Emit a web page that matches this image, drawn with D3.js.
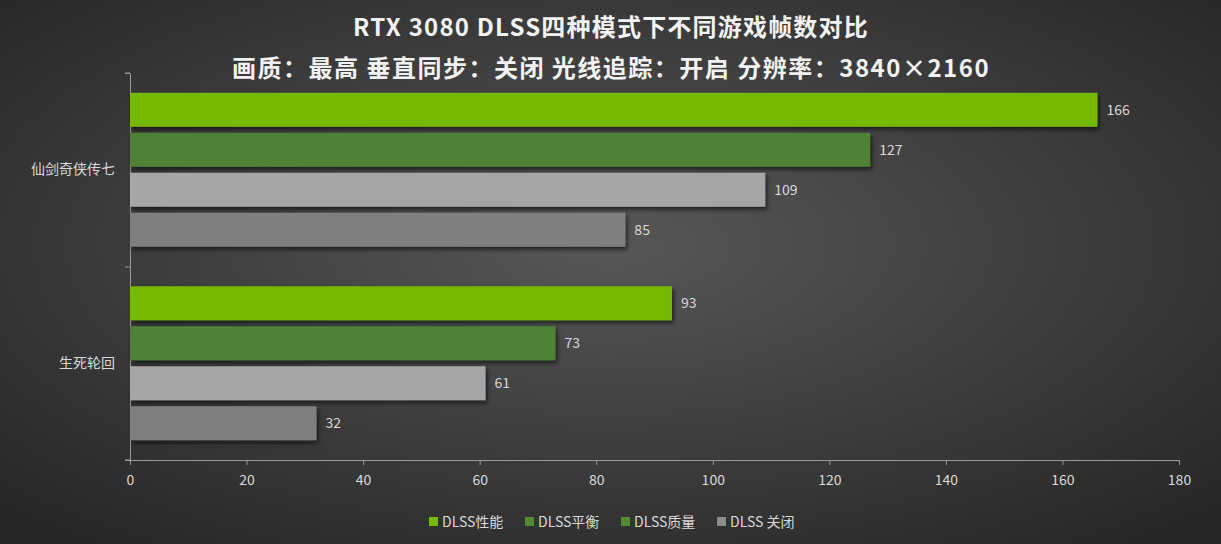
<!DOCTYPE html><html><head><meta charset="utf-8"><script src="https://cdn.jsdelivr.net/npm/d3@7"></script>
<style>body{margin:0;background:#333}</style></head><body><svg id="c" width="1221" height="544"></svg>
<script>
const categories=["仙剑奇侠传七","生死轮回"];
const seriesNames=["DLSS性能","DLSS平衡","DLSS质量","DLSS 关闭"];
const barColors=["#76b900","#4f8236","#a6a6a6","#7f7f7f"];
const legendColors=["#76b900","#538b35","#538b35","#8c8c8c"];
const values=[[166,127,109,85],[93,73,61,32]];
const xTicks=[0,20,40,60,80,100,120,140,160,180];
const title1="RTX 3080 DLSS四种模式下不同游戏帧数对比";
const title2="画质：最高 垂直同步：关闭 光线追踪：开启 分辨率：3840×2160";

const svg=d3.select("#c");
const defs=svg.append("defs");
const g=defs.append("radialGradient").attr("id","bg").attr("cx","50%").attr("cy","45%").attr("r","70%");
g.append("stop").attr("offset","0%").attr("stop-color","#575757");
g.append("stop").attr("offset","100%").attr("stop-color","#262626");
const f=defs.append("filter").attr("id","sh").attr("x","-5%").attr("y","-20%").attr("width","115%").attr("height","160%");
f.append("feDropShadow").attr("dx",2).attr("dy",3).attr("stdDeviation",2).attr("flood-color","#000").attr("flood-opacity",0.55);
svg.append("rect").attr("width",1221).attr("height",544).attr("fill","url(#bg)");
const font="'Noto Sans CJK SC','Noto Sans',sans-serif";
svg.append("text").attr("x",611).attr("y",36).attr("text-anchor","middle").attr("fill","#f2f2f2").attr("font-size",24).attr("letter-spacing",1.2).attr("font-weight","bold").attr("font-family",font).text(title1);
svg.append("text").attr("x",611).attr("y",77).attr("text-anchor","middle").attr("fill","#f2f2f2").attr("font-size",24).attr("letter-spacing",1.5).attr("font-weight","bold").attr("font-family",font).text(title2);

const x=d3.scaleLinear().domain([0,180]).range([130,1179]);
const y=d3.scaleBand().domain(categories).range([73,460]);
const inner=d3.scaleBand().domain(d3.range(4)).range([0,y.bandwidth()]).paddingInner(0.15).paddingOuter(0.495);

const ax=svg.append("g").attr("transform","translate(0,460)").call(d3.axisBottom(x).tickValues(xTicks).tickSize(5).tickSizeOuter(0));
ax.selectAll("text").attr("fill","#d9d9d9").attr("font-size",14).attr("font-family",font).attr("dy","1.2em");
ax.selectAll("line,path").attr("stroke","#999");
const ay=svg.append("g").attr("transform","translate(130,0)").call(d3.axisLeft(y).tickSize(0).tickSizeOuter(5));
ay.select("path").attr("stroke","#999");
ay.selectAll("text").attr("fill","#d9d9d9").attr("font-size",14).attr("font-family",font).attr("dx","-12");
svg.selectAll(".sep").data([73,267,460]).enter().append("line").attr("x1",125).attr("x2",130).attr("y1",d=>d).attr("y2",d=>d).attr("stroke","#999");

categories.forEach((c,ci)=>{
  values[ci].forEach((v,si)=>{
    const yy=y(c)+inner(si);
    svg.append("rect").attr("x",x(0)).attr("y",yy).attr("width",x(v)-x(0)).attr("height",inner.bandwidth()).attr("fill",barColors[si]).attr("filter","url(#sh)");
    svg.append("text").attr("x",x(v)+9).attr("y",yy+inner.bandwidth()/2+5).attr("fill","#d9d9d9").attr("font-size",14).attr("font-family",font).text(v);
  });
});

const lx=[429,525,621,717];
seriesNames.forEach((s,i)=>{
  svg.append("rect").attr("x",lx[i]).attr("y",517).attr("width",9).attr("height",9).attr("fill",legendColors[i]);
  svg.append("text").attr("x",lx[i]+13).attr("y",527).attr("fill","#d9d9d9").attr("font-size",14).attr("font-family",font).text(s);
});
</script></body></html>
